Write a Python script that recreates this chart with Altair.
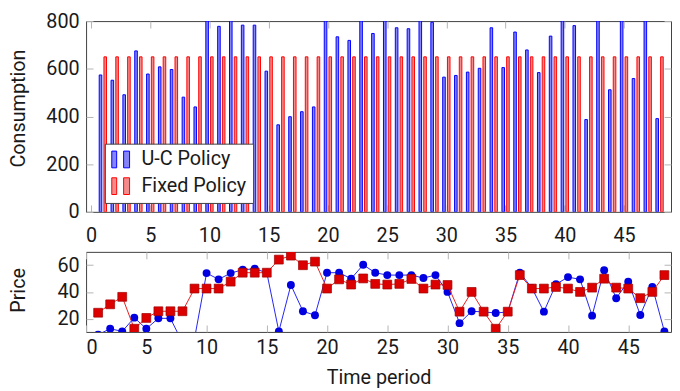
import altair as alt
import pandas as pd

# ---------------- data ----------------
periods = list(range(1, 49))

uc_consumption = [574, 552, 491, 675, 578, 608, 597, 481, 440, 800,
                  778, 800, 783, 783, 590, 365, 399, 420, 440, 800,
                  734, 719, 800, 748, 800, 772, 768, 800, 795, 565,
                  572, 586, 602, 772, 605, 754, 679, 584, 737, 800,
                  781, 387, 800, 512, 800, 559, 800, 391]

fixed_consumption = [650, 650, 650, 650, 650, 650, 650, 650, 650, 650,
                     650, 650, 650, 650, 650, 650, 650, 650, 650, 650,
                     650, 650, 650, 650, 650, 650, 650, 650, 650, 650,
                     650, 650, 650, 650, 650, 650, 650, 650, 650, 650,
                     650, 650, 650, 650, 650, 650, 650, 650]

uc_price = [8, 12.4, 10.4, 20.7, 12.4, 20.2, 20.2, 2, 5, 54.1,
            49.4, 54.1, 56.6, 57.3, 54.4, 10.4, 45.2, 25.5, 22.5, 54.4,
            54.4, 49.9, 60.3, 54.4, 52.6, 52.6, 52.6, 50.4, 52.6, 40,
            16.6, 25.5, 25, 24.2, 25, 54.4, 43, 25.2, 45.7, 51.1,
            49.4, 22.2, 56.3, 35.3, 47.7, 22.7, 43.7, 10.4]

fixed_price = [24.4, 30.7, 36.3, 12.4, 20.5, 25.5, 25.5, 25.5, 42.5, 42.5,
               42.5, 47.7, 54.4, 54.4, 54.4, 64.2, 67.2, 60, 62.7, 42.5,
               49.4, 45.5, 50.1, 46, 45.5, 46, 49.7, 42.5, 45.5, 45.2,
               25.2, 40, 25.2, 12.4, 25.2, 52.6, 42.5, 42.5, 43.7, 42.5,
               40, 43.2, 49.9, 43.2, 42.5, 35.3, 40, 52.6]

series_names = ["U-C Policy", "Fixed Policy"]
x_ticks = [0, 5, 10, 15, 20, 25, 30, 35, 40, 45]
cons_ticks = [0, 200, 400, 600, 800]
price_ticks = [20, 40, 60]

uc_cons_df = pd.DataFrame({"t": periods, "value": uc_consumption, "series": series_names[0]})
fx_cons_df = pd.DataFrame({"t": periods, "value": fixed_consumption, "series": series_names[1]})
uc_price_df = pd.DataFrame({"t": periods, "price": uc_price})
fx_price_df = pd.DataFrame({"t": periods, "price": fixed_price})

# ---------------- styling ----------------
FONT = "Roboto"
TICK = 7
W = 591.8
xs = alt.Scale(domain=[0, 48.55], nice=False, zero=False)
ys_top = alt.Scale(domain=[0, 800], nice=False)
ys_bot = alt.Scale(domain=[10, 70], nice=False, zero=False)

fill_scale = alt.Scale(domain=series_names, range=["#8585f5", "#f28c8c"])
stroke_scale = alt.Scale(domain=series_names, range=["#0000ff", "#ff0000"])

ICON = "M-1,-0.94H-0.45V0.94H-1Z M0.33,-0.94H1V0.94H0.33Z"
legend = alt.Legend(title=None, orient="none", legendX=19, legendY=124,
                    symbolType=ICON, symbolSize=324, symbolStrokeWidth=1,
                    fillColor="white", strokeColor="#404040", padding=6,
                    labelOffset=11, rowPadding=5, labelFont=FONT,
                    labelFontSize=20, labelColor="#1a1a1a")


def inward(orient, values, **kw):
    return alt.Axis(orient=orient, values=values, offset=-TICK, tickSize=TICK,
                    domain=False, grid=False, **kw)


# ---------------- top panel: consumption bars ----------------
uc_bars = alt.Chart(uc_cons_df).transform_calculate(
    tpos="datum.t - 0.2"
).mark_bar(size=2.6, strokeWidth=1, clip=True).encode(
    x=alt.X("tpos:Q", scale=xs,
            axis=inward("bottom", x_ticks, labelPadding=14, title=None, format="d")),
    y=alt.Y("value:Q", scale=ys_top,
            axis=inward("left", cons_ticks, labelPadding=7, title="Consumption",
                        titleX=-75, titleY=88, titleBaseline="middle")),
    fill=alt.Fill("series:N", scale=fill_scale, legend=legend),
    stroke=alt.Stroke("series:N", scale=stroke_scale, legend=legend),
)

fx_bars = alt.Chart(fx_cons_df).transform_calculate(
    tpos="datum.t + 0.2"
).mark_bar(size=2.6, strokeWidth=1, clip=True).encode(
    x=alt.X("tpos:Q", scale=xs, axis=inward("top", x_ticks, labels=False, title=None)),
    y=alt.Y("value:Q", scale=ys_top, axis=inward("right", cons_ticks, labels=False, title=None)),
    fill=alt.Fill("series:N", scale=fill_scale, legend=legend),
    stroke=alt.Stroke("series:N", scale=stroke_scale, legend=legend),
)

top = alt.layer(uc_bars, fx_bars).resolve_axis(
    x="independent", y="independent"
).properties(width=W, height=193)

# ---------------- bottom panel: price ----------------
uc_line = alt.Chart(uc_price_df).mark_line(color="#2424f0", strokeWidth=1, clip=True).encode(
    x=alt.X("t:Q", scale=xs,
            axis=inward("bottom", x_ticks, labelPadding=6, title="Time period",
                        titlePadding=10, format="d")),
    y=alt.Y("price:Q", scale=ys_bot,
            axis=inward("left", price_ticks, labelPadding=7, title="Price",
                        titleX=-75, titleY=38.5, titleBaseline="middle")),
)
uc_pts = alt.Chart(uc_price_df).mark_point(
    filled=True, shape="circle", size=64, color="#0000e0", opacity=1, clip=True
).encode(
    x=alt.X("t:Q", scale=xs, axis=None),
    y=alt.Y("price:Q", scale=ys_bot, axis=None),
)
fx_line = alt.Chart(fx_price_df).mark_line(color="#e82020", strokeWidth=1, clip=True).encode(
    x=alt.X("t:Q", scale=xs, axis=inward("top", x_ticks, labels=False, title=None)),
    y=alt.Y("price:Q", scale=ys_bot, axis=inward("right", price_ticks, labels=False, title=None)),
)
fx_pts = alt.Chart(fx_price_df).mark_square(
    size=80, color="#dd0000", stroke="#a00000", strokeWidth=0.7, opacity=1, clip=True
).encode(
    x=alt.X("t:Q", scale=xs, axis=None),
    y=alt.Y("price:Q", scale=ys_bot, axis=None),
)

bottom = alt.layer(uc_line, uc_pts, fx_line, fx_pts).resolve_axis(
    x="independent", y="independent"
).properties(width=W, height=81)

chart = alt.vconcat(top, bottom, spacing=4.5).properties(
    padding={"left": 0, "top": 0, "right": 0, "bottom": 0}
).configure_axis(
    labelFont=FONT, titleFont=FONT, labelFontSize=20, titleFontSize=20,
    titleFontWeight="normal", labelColor="#1a1a1a", titleColor="#1a1a1a",
    tickColor="#b4b4b4", tickWidth=1,
).configure_view(stroke="#404040", strokeWidth=1)

chart.save("out.html", embed_options={"renderer": "svg", "actions": False})
